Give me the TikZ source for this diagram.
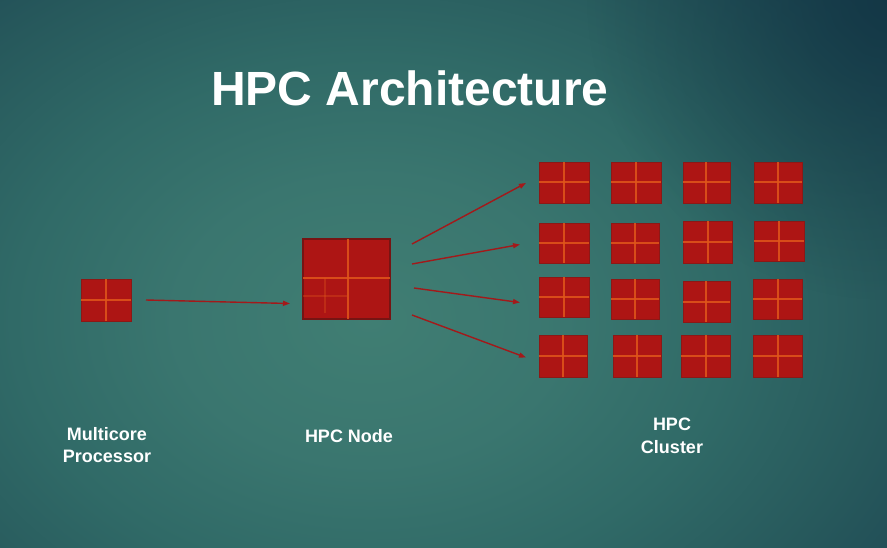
\documentclass[tikz,border=0pt]{standalone}
\usepackage{fontspec}
\setmainfont{Liberation Sans}
\usetikzlibrary{arrows.meta,fadings}
\definecolor{bgA}{HTML}{407E73}
\definecolor{bgB}{HTML}{3A766F}
\definecolor{bgC}{HTML}{306A67}
\definecolor{bgD}{HTML}{27595C}
\definecolor{bgE}{HTML}{1F4A55}
\definecolor{bgcorner}{HTML}{0F3040}
\definecolor{chipred}{HTML}{AD1514}
\definecolor{chipedge}{HTML}{8C1816}
\definecolor{coreorange}{HTML}{E0561A}
\definecolor{arrowred}{HTML}{A3191A}
\pgfdeclareradialshading{bgshade}{\pgfpoint{0bp}{0bp}}{color(0bp)=(bgA); color(7.5bp)=(bgB); color(13.75bp)=(bgC); color(20bp)=(bgD); color(25bp)=(bgE); color(50bp)=(bgE)}
\tikzfading[name=cornerfade, inner color=transparent!0, outer color=transparent!100]
\tikzset{
  chip/.style={draw=chipedge, line width=1pt, fill=chipred, inner sep=0pt, outer sep=0pt},
  coreline/.style={draw=coreorange, line width=1.8pt, opacity=0.85},
  faintline/.style={draw=coreorange, line width=1.8pt, opacity=0.35},
  link/.style={draw=arrowred, line width=1.4pt, -{Triangle[length=7pt,width=5pt]}},
  label/.style={text=white, font={\fontsize{18}{22.5}\selectfont\bfseries}, align=center, anchor=north, inner sep=0pt},
}
% name, x1, y1, x2, y2, vertical-line x, horizontal-line y
\newcommand\cpuchip[7]{%
  \node[chip, minimum width={(#4-#2)*1pt}, minimum height={(#5-#3)*1pt}] (#1) at ({(#2+#4)/2},{(#3+#5)/2}) {};
  \draw[coreline] (#6,#3) -- (#6,#5);
  \draw[coreline] (#2,#7) -- (#4,#7);
}
\begin{document}
\begin{tikzpicture}[x=1pt,y=-1pt]
\useasboundingbox (0,0) rectangle (887,547);
\begin{scope}
  \clip (0,0) rectangle (887,547);
  \fill[bgE] (0,0) rectangle (887,547);
  \shade[shading=bgshade] (370,320) ellipse (650 and 480);
  \fill[bgcorner, path fading=cornerfade, fill opacity=0.7] (887,0) circle (300);
\end{scope}

% title
\node[text=white, font={\fontsize{48}{56}\selectfont\bfseries}, anchor=base, inner sep=0pt] (title) at (410,105) {HPC Architecture};

% multicore processor
\cpuchip{proc}{81}{279}{131}{321}{106}{300}

% HPC node
\node[chip, draw=chipedge!85!black, line width=1.4pt, minimum width=87pt, minimum height=80pt] (node) at (346.5,279) {};
\draw[faintline] (325,278) -- (325,313);
\draw[faintline] (303,296) -- (347,296);
\draw[coreline] (348,239) -- (348,319);
\draw[coreline] (303,278) -- (390,278);

% cluster
\cpuchip{c11}{539}{162}{589}{203}{564}{182}
\cpuchip{c12}{611}{162}{661}{203}{636}{182}
\cpuchip{c13}{683}{162}{730}{203}{706}{182}
\cpuchip{c14}{754}{162}{802}{203}{778}{182}
\cpuchip{c21}{539}{223}{589}{263}{564}{243}
\cpuchip{c22}{611}{223}{659}{263}{635}{243}
\cpuchip{c23}{683}{221}{732}{263}{708}{242}
\cpuchip{c24}{754}{221}{804}{261}{779}{241}
\cpuchip{c31}{539}{277}{589}{317}{564}{297}
\cpuchip{c32}{611}{279}{659}{319}{635}{299}
\cpuchip{c33}{683}{281}{730}{322}{706}{302}
\cpuchip{c34}{753}{279}{802}{319}{778}{299}
\cpuchip{c41}{539}{335}{587}{377}{563}{356}
\cpuchip{c42}{613}{335}{661}{377}{637}{356}
\cpuchip{c43}{681}{335}{730}{377}{706}{356}
\cpuchip{c44}{753}{335}{802}{377}{778}{356}

% arrow endpoints
\coordinate (p0s) at (146,300);
\coordinate (p0e) at (290,303.5);
\coordinate (aS) at (412,244);
\coordinate (aE) at (526,183);
\coordinate (bS) at (412,264);
\coordinate (bE) at (520,244.5);
\coordinate (cS) at (414,288);
\coordinate (cE) at (520,302.5);
\coordinate (dS) at (412,315);
\coordinate (dE) at (526,357.5);
\draw[link] (p0s) -- (p0e);
\draw[link] (aS) -- (aE);
\draw[link] (bS) -- (bE);
\draw[link] (cS) -- (cE);
\draw[link] (dS) -- (dE);

% labels
\node[label] (lproc) at (107,427) {Multicore\\Processor};
\node[label] (lnode) at (349,429) {HPC Node};
\node[label] (lclus) at (672,418) {HPC\\Cluster};
\end{tikzpicture}
\end{document}
